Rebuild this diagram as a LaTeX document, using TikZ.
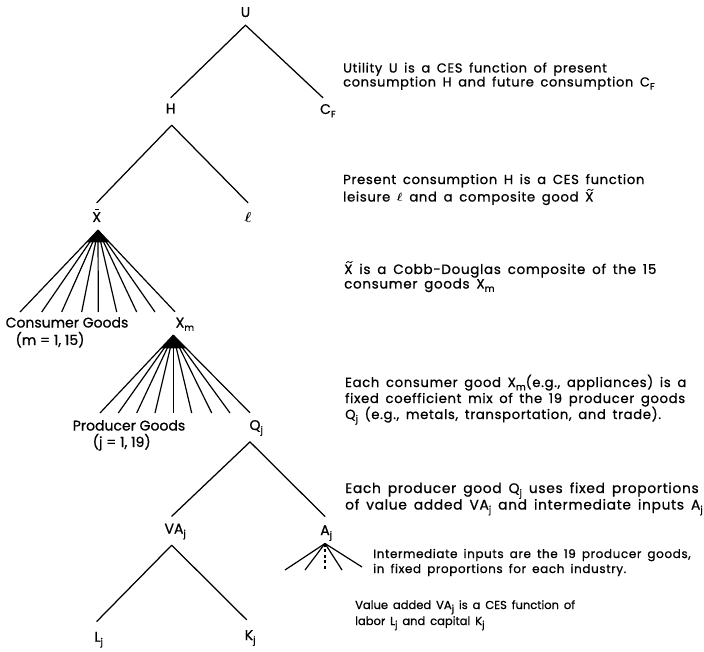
\documentclass[tikz,border=0pt]{standalone}
\usepackage{fontspec}
\setmainfont{Poppins}[FakeBold=0.8]
\newfontfamily\descfont{Poppins}[FakeBold=0.8, LetterSpace=5, WordSpace=1.6]
\newfontfamily\smallfont{Poppins}[FakeBold=0.8, WordSpace=1.6]
\usetikzlibrary{calc}
\newcommand\mysub[1]{\raisebox{-0.45ex}{\fontsize{9.5}{9.5}\selectfont #1}}
\newcommand\Xbar{\leavevmode\rlap{\hspace{0.17em}\rule[0.84em]{0.34em}{0.9pt}}X}
\newcommand\tildemark{\tikz[baseline=0pt]\draw[line width=0.75pt, line cap=round] (0pt,0pt) .. controls (1.2pt,1.8pt) and (2.2pt,1.8pt) .. (3.2pt,0.8pt) .. controls (4.2pt,-0.2pt) and (5pt,-0.2pt) .. (6.2pt,1.6pt);}
\newcommand\Xtil{\leavevmode\rlap{\hspace{0.12em}\raisebox{0.82em}{\tildemark}}X}
\newcommand\ellb{{\boldmath$\ell$}}
\begin{document}
\begin{tikzpicture}[x=1pt,y=-1pt,
  lbl/.style={font=\fontsize{14}{16}\selectfont, inner sep=0pt, text height=10pt, text depth=0pt},
  desc/.style={anchor=base west, align=left, inner sep=0pt},
  link/.style={line width=1.25pt, line cap=round},
  fanline/.style={line width=1.2pt}]
\useasboundingbox (0,0) rectangle (704,652);
% tree labels
\node[lbl] (U)  at (245.5,12) {U};
\node[lbl] (H)  at (170.7,108.5) {H};
\node[lbl] (CF) at (325.5,109) {C\rlap{\mysub{F}}};
\node[lbl] (Xb) at (96.7,217) {\Xbar};
\node[lbl] (el) at (248,218) {\ellb};
\node[lbl] (CG) at (67,322.5) {Consumer Goods};
\node[lbl] (CGr) at (50,340) {(m = 1, 15)};
\node[lbl] (Xm) at (180,322.5) {X\rlap{\mysub{m}}};
\node[lbl] (PG) at (129,425.5) {Producer Goods};
\node[lbl] (PGr) at (121.7,442) {(j = 1, 19)};
\node[lbl] (Q)  at (255,425) {Q\rlap{\mysub{j}}};
\node[lbl] (VA) at (174,528.5) {VA\rlap{\mysub{j}}};
\node[lbl] (A)  at (325,530) {A\rlap{\mysub{j}}};
\node[lbl] (L)  at (97.5,636.7) {L\rlap{\mysub{j}}};
\node[lbl] (K)  at (249,635) {K\rlap{\mysub{j}}};
% binary links
\draw[link] ($(U.south)+(0,8)$) -- ($(H.north)+(0,-5.5)$);
\draw[link] ($(U.south)+(0,8)$) -- ($(CF.north)+(-2.5,-6)$);
\draw[link] ($(H.south)+(1,11.5)$) -- ($(Xb.north)+(0,-9)$);
\draw[link] ($(H.south)+(1,11.5)$) -- ($(el.north)+(0,-10)$);
\draw[link] ($(Q.south)+(-5,11.7)$) -- ($(VA.north)+(-2.3,-7)$);
\draw[link] ($(Q.south)+(-5,11.7)$) -- ($(A.north)+(0,-8.3)$);
\draw[link] ($(VA.south)+(-2.3,11.5)$) -- ($(L.north)+(-0.8,-10)$);
\draw[link] ($(VA.south)+(-2.3,11.5)$) -- ($(K.north)+(-2.3,-10)$);
% fan under X bar
\coordinate (xa) at ($(Xb.south)+(1.3,8)$);
\coordinate (xe) at ($(Xm.north)+(-5,-5.5)$);
\foreach \i/\x in {1/20,2/41.7,3/61.7,4/81.7,5/98.3,6/116.7,7/136.7,8/155}{
  \coordinate (c\i) at (\x,312);
  \draw[fanline] (xa) -- (c\i);
}
\draw[fanline] (xa) -- (xe);
\fill (xa) -- ($(xa)!0.15!(c1)$) -- ($(xa)!0.15!(xe)$) -- cycle;
% fan under Xm
\coordinate (ma) at ($(Xm.south)+(-6.7,7.5)$);
\coordinate (me) at ($(Q.north)+(-5,-7)$);
\foreach \i/\x in {1/100,2/118.3,3/136.7,4/155,5/173.3,6/191.7,7/211.7,8/230}{
  \coordinate (p\i) at (\x,413);
  \draw[fanline] (ma) -- (p\i);
}
\draw[fanline] (ma) -- (me);
\fill (ma) -- ($(ma)!0.17!(p1)$) -- ($(ma)!0.17!(me)$) -- cycle;
% fan under A_j
\coordinate (aa) at ($(A.south)+(0,8.3)$);
\coordinate (a1) at (285,570);
\coordinate (a2) at (305,570);
\coordinate (a3) at (325,570);
\coordinate (a4) at (342,570);
\coordinate (a5) at (362,567);
\draw[fanline] (aa) -- (a1);
\draw[fanline] (aa) -- (a2);
\draw[fanline, dash pattern=on 3pt off 2.5pt] (aa) -- (a3);
\draw[fanline] (aa) -- (a4);
\draw[fanline] (aa) -- (a5);
% descriptions (anchor = baseline of last line)
\node[desc, font=\descfont\fontsize{13}{14}\selectfont] (t1) at (343,86.5)
  {Utility U is a CES function of present\\consumption H and future consumption C\mysub{F}};
\node[desc, font=\descfont\fontsize{13.2}{14}\selectfont] (t2) at (343,201.5)
  {Present consumption H is a CES function\\leisure \ellb{} and a composite good \Xtil};
\node[desc, font=\descfont\fontsize{13.5}{14.5}\selectfont] (t3) at (344,288.5)
  {\Xtil{} is a Cobb-Douglas composite of the 15\\consumer goods X\mysub{m}};
\node[desc, font=\descfont\fontsize{13.2}{16}\selectfont] (t4) at (345,419)
  {Each consumer good X\mysub{m}(e.g., appliances) is a\\fixed coefficient mix of the 19 producer goods\\Q\mysub{j} (e.g., metals, transportation, and trade).};
\node[desc, font=\descfont\fontsize{13.8}{16.5}\selectfont] (t5) at (345,509.5)
  {Each producer good Q\mysub{j} uses fixed proportions\\of value added VA\mysub{j} and intermediate inputs A\mysub{j}};
\node[desc, font=\descfont\fontsize{12}{15}\selectfont] (t6) at (373,573)
  {Intermediate inputs are the 19 producer goods,\\in fixed proportions for each industry.};
\node[desc, font=\smallfont\fontsize{11.5}{16}\selectfont] (t7) at (355,625)
  {Value added VA\mysub{j} is a CES function of\\labor L\mysub{j} and capital K\mysub{j}};
\end{tikzpicture}
\end{document}
